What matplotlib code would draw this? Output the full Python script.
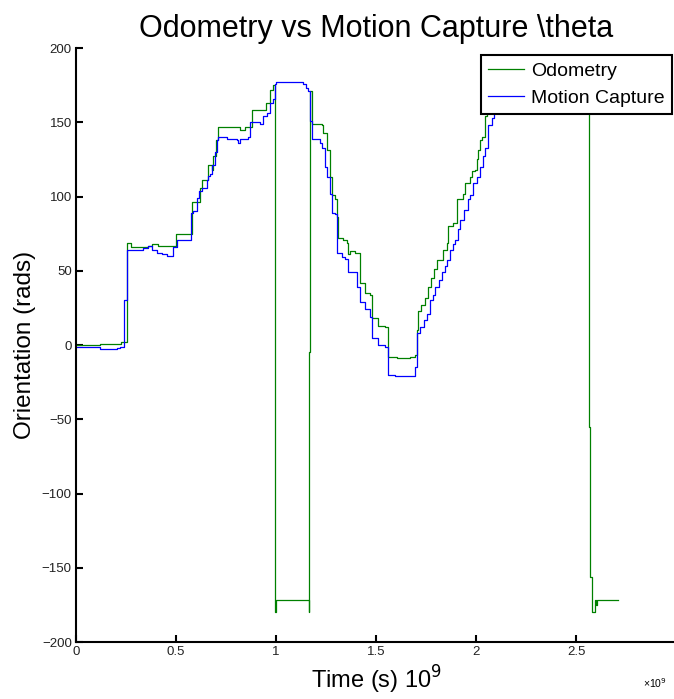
import matplotlib
matplotlib.use("Agg")
import matplotlib.pyplot as plt


# 里程计（Odometry）角度数据，横轴单位为 10^9
odom_time = [
    0.0, 0.12, 0.21, 0.225, 0.255, 0.275, 0.36, 0.38, 0.41,
    0.485, 0.5, 0.57, 0.58, 0.6, 0.62, 0.63, 0.655, 0.66, 0.68,
    0.685, 0.7, 0.71, 0.805, 0.82, 0.845, 0.87, 0.88, 0.935, 0.95, 0.97,
    0.985, 0.993, 0.996, 1.002, 1.16, 1.163, 1.166, 1.17, 1.18,
    1.23, 1.235, 1.255, 1.27, 1.28, 1.295, 1.305, 1.31, 1.335, 1.355,
    1.36, 1.37, 1.395, 1.42, 1.445, 1.47, 1.48, 1.51, 1.545, 1.56,
    1.605, 1.67, 1.695, 1.705, 1.71, 1.725, 1.745, 1.76, 1.775, 1.79,
    1.805, 1.835, 1.855, 1.86, 1.885, 1.905, 1.935, 1.945, 1.97, 1.98,
    1.995, 2.005, 2.012, 2.02, 2.03, 2.045, 2.055, 2.15, 2.3, 2.45,
    2.563, 2.566, 2.57, 2.578, 2.597, 2.6, 2.605, 2.71,
]
odom_theta = [
    0, 0.5, 0.5, 2, 69, 66, 67, 68, 67,
    67, 75, 75, 96, 96, 106, 111, 111, 121, 118,
    127, 138, 147, 147, 145, 147, 147, 158, 158, 163, 172,
    175, -4, -180, -172, -172, -180, -5, 171, 149,
    148, 143, 131, 113, 101, 98, 86, 72, 71, 69,
    61, 63, 62, 42, 35, 34, 18, 13, 12, -8,
    -9, -8, -7, 10, 23, 27, 32, 39, 45, 51,
    57, 64, 69, 80, 82, 98, 102, 109, 113, 117,
    118, 125, 131, 138, 140, 154, 157, 168, 175, 178,
    101, -55, -156, -180, -172, -175, -172, -172,
]

# 动作捕捉（Motion Capture）角度数据
mocap_time = [
    0.0, 0.11, 0.12, 0.2, 0.205, 0.22, 0.24, 0.255, 0.335,
    0.36, 0.38, 0.405, 0.43, 0.455, 0.485, 0.505, 0.565, 0.575, 0.585,
    0.605, 0.615, 0.63, 0.655, 0.66, 0.67, 0.68, 0.695, 0.705, 0.71,
    0.755, 0.805, 0.81, 0.82, 0.86, 0.87, 0.92, 0.935, 0.955, 0.97,
    0.985, 0.995, 1.0, 1.135, 1.15, 1.16, 1.17, 1.18, 1.22, 1.23,
    1.245, 1.255, 1.27, 1.28, 1.295, 1.305, 1.33, 1.345, 1.36, 1.385,
    1.405, 1.42, 1.445, 1.47, 1.48, 1.51, 1.545, 1.56, 1.595, 1.685,
    1.695, 1.705, 1.72, 1.74, 1.755, 1.77, 1.785, 1.795, 1.815, 1.83,
    1.845, 1.855, 1.87, 1.885, 1.895, 1.91, 1.92, 1.94, 1.96, 1.97,
    1.985, 2.005, 2.02, 2.035, 2.045, 2.06, 2.08, 2.09, 2.2, 2.35, 2.5,
]
mocap_theta = [
    -1.5, -1.5, -3, -3, -2, -1, 30, 64, 65,
    67, 64, 62, 61, 60, 66, 71, 71, 89, 90,
    99, 104, 106, 111, 114, 115, 121, 130, 138, 140,
    139, 138, 136, 139, 140, 150, 149, 154, 156, 163,
    166, 176, 177, 176, 173, 171, 151, 139, 136, 133,
    120, 113, 102, 89, 88, 62, 59, 58, 49, 49,
    39, 29, 24, 19, 5, 0, -1, -20, -21, -21,
    -15, 8, 12, 17, 21, 30, 34, 39, 44, 49,
    53, 57, 64, 68, 71, 78, 84, 91, 98, 101,
    109, 113, 120, 127, 133, 148, 153, 162, 168, 172, 176,
]

x_ticks = [0, 0.5, 1, 1.5, 2, 2.5]
x_tick_labels = ["0", "0.5", "1", "1.5", "2", "2.5"]
y_ticks = [-200, -150, -100, -50, 0, 50, 100, 150, 200]


def plot_theta_curve(output_file):
    """
    画里程计与动作捕捉的角度对比曲线，并保存图片。
    """
    plt.rcParams["font.family"] = ["Liberation Sans", "DejaVu Sans"]

    fig = plt.figure(figsize=(6.74, 6.99), dpi=100)
    ax = fig.add_axes([0.1128, 0.0815, 0.8902, 0.8498])

    # 两条曲线：绿色为里程计，蓝色为动作捕捉（阶梯状采样）
    ax.plot(odom_time, odom_theta, color="#008000", linewidth=0.9,
            drawstyle="steps-post", label="Odometry")
    ax.plot(mocap_time, mocap_theta, color="#0000ff", linewidth=0.9,
            drawstyle="steps-post", label="Motion Capture")

    ax.set_xlim(0, 3)
    ax.set_ylim(-200, 200)
    ax.set_xticks(x_ticks)
    ax.set_xticklabels(x_tick_labels)
    ax.set_yticks(y_ticks)

    # 只保留左边和下边的坐标轴（类似 MATLAB 的 box off）
    ax.spines["top"].set_visible(False)
    ax.spines["right"].set_visible(False)
    ax.spines["left"].set_linewidth(1.5)
    ax.spines["bottom"].set_linewidth(1.5)
    ax.tick_params(direction="in", length=5, width=1.5, labelsize=9.5,
                   labelcolor="#222222", pad=3)

    ax.set_title("Odometry vs Motion Capture \\theta", fontsize=22, pad=8)
    ax.set_xlabel("Time (s) 10$^{9}$", fontsize=17, labelpad=4)
    ax.set_ylabel("Orientation (rads)", fontsize=17.5, labelpad=4)

    # 右下角的 ×10 偏移文字
    fig.text(643 / 674, 1 - 683 / 699, "\u00d710$^{9}$", fontsize=7.5,
             va="center", ha="left")

    legend = ax.legend(
        loc="upper right",
        bbox_to_anchor=(0.993, 0.988),
        borderaxespad=0,
        fontsize=14,
        fancybox=False,
        framealpha=1,
        edgecolor="black",
        handlelength=1.85,
        handletextpad=0.4,
        borderpad=0.35,
        labelspacing=0.5,
    )
    legend.get_frame().set_linewidth(1.5)

    fig.savefig(output_file, dpi=100)
    plt.close(fig)


def main():
    plot_theta_curve("out.png")


if __name__ == "__main__":
    main()
